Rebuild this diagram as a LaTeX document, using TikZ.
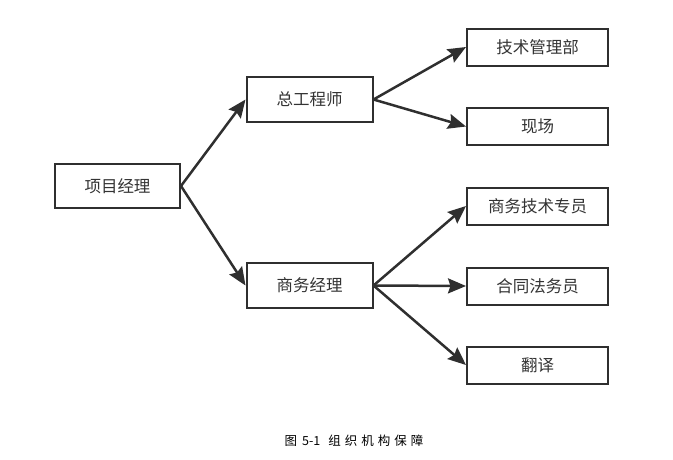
\documentclass[tikz,border=0pt]{standalone}
\usepackage{fontspec}
\usepackage{tikz}
\usetikzlibrary{arrows.meta}
\newfontfamily\cjk{Noto Sans CJK SC}
\definecolor{linegray}{HTML}{2F2F2F}

\begin{document}
\begin{tikzpicture}[x=1pt, y=-1pt,
  box/.style={draw=linegray, line width=2pt, fill=white, inner sep=0pt,
    font=\cjk\fontsize{16.5}{16.5}\selectfont, text=black!80},
  midbox/.style={box, minimum width=126pt, minimum height=45pt},
  leafbox/.style={box, minimum width=141pt, minimum height=37pt},
  link/.style={draw=linegray, line width=2.5pt,
    -{Stealth[length=18pt, width=15pt, inset=2.5pt]}}]
\useasboundingbox (0,0) rectangle (673,459);

% level 1
\node[midbox, minimum width=125pt, minimum height=44pt] (pm) at (117.5,186) {项目经理};
% level 2
\node[midbox] (chief) at (309.5,99.5) {总工程师};
\node[midbox] (biz) at (309.5,285.5) {商务经理};
% level 3
\node[leafbox] (tech) at (537.5,47) {技术管理部};
\node[leafbox] (site) at (537.5,126.5) {现场};
\node[leafbox] (spec) at (537.5,206) {商务技术专员};
\node[leafbox] (law) at (537.5,286) {合同法务员};
\node[leafbox] (trans) at (537.5,365) {翻译};

% connectors
\draw[link] (pm.east) -- (chief.west);
\draw[link] (pm.east) -- (biz.west);
\draw[link] (chief.east) -- (tech.west);
\draw[link] (chief.east) -- (site.west);
\draw[link] (biz.east) -- (spec.west);
\draw[link] (biz.east) -- (law.west);
\draw[link] (biz.east) -- (trans.west);

% caption
\node[font=\cjk\fontsize{12.5}{12.5}\selectfont] (cap) at (354,441) {图\kern5pt 5-1\kern8pt 组\kern4pt 织\kern4pt 机\kern4pt 构\kern4pt 保\kern4pt 障};
\end{tikzpicture}
\end{document}
